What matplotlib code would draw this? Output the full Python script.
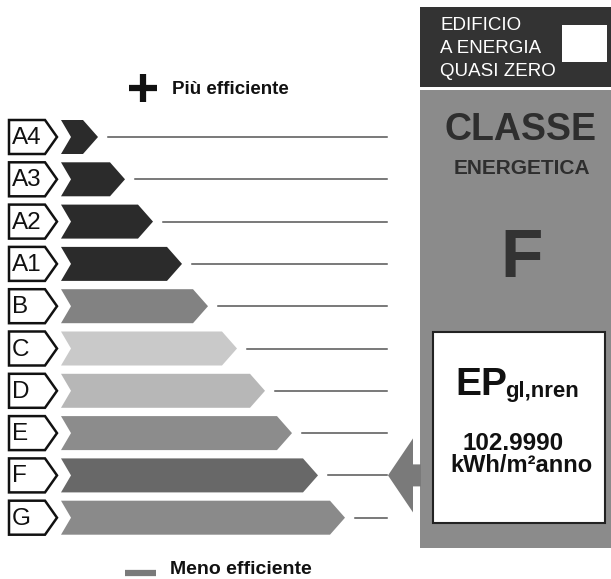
import matplotlib
matplotlib.use("Agg")
import matplotlib.pyplot as plt
from matplotlib.patches import Polygon, Rectangle

plt.rcParams['font.family'] = ['Liberation Sans', 'DejaVu Sans']

# classi energetiche, dalla migliore alla peggiore
classes = ['A4', 'A3', 'A2', 'A1', 'B', 'C', 'D', 'E', 'F', 'G']
bar_ends = [98, 125, 153, 182, 208, 237, 265, 292, 318, 345]
bar_grays = ['#2b2b2b', '#2b2b2b', '#2b2b2b', '#2b2b2b', '#828282',
             '#c9c9c9', '#b7b7b7', '#8c8c8c', '#686868', '#8a8a8a']
rating = 'F'
ep_value = 102.9990
header_lines = ['EDIFICIO', 'A ENERGIA', 'QUASI ZERO']

W, H = 611, 579
fig = plt.figure(figsize=(W / 100, H / 100), dpi=100)
ax = fig.add_axes([0, 0, 1, 1])
ax.set_xlim(0, W)
ax.set_ylim(H, 0)
ax.axis('off')

row0, pitch, half = 137, 42.3, 17
line_end = 387

for i, (cl, end, col) in enumerate(zip(classes, bar_ends, bar_grays)):
    cy = row0 + i * pitch
    top, bot = cy - half, cy + half
    # etichetta con bordo
    lab = Polygon([(9, top), (45, top), (57, cy), (45, bot), (9, bot)],
                  closed=True, facecolor='white', edgecolor='#111111', lw=1.8)
    ax.add_patch(lab)
    ax.text(12, cy + 1, cl, fontsize=17.5, color='#111111', va='center', ha='left')
    # freccia della classe
    bar = Polygon([(61, top), (end - 15, top), (end, cy), (end - 15, bot),
                   (61, bot), (71, cy)], closed=True, facecolor=col, edgecolor='none')
    ax.add_patch(bar)
    ax.plot([end + 10, line_end], [cy, cy], color='#555555', lw=1.1)

# testo in alto e in basso
ax.plot([129, 157], [88, 88], color='#111111', lw=4.5, solid_capstyle='butt')
ax.plot([143, 143], [74, 102], color='#111111', lw=4.5, solid_capstyle='butt')
ax.text(172, 89, 'Più efficiente', fontsize=13.5, fontweight='bold', color='#111111',
        va='center', ha='left')
ax.plot([125, 156], [573, 573], color='#7a7a7a', lw=4.5, solid_capstyle='butt')
ax.text(170, 570, 'Meno efficiente', fontsize=14, fontweight='bold', color='#111111',
        va='center', ha='left')

# pannello destro
ax.add_patch(Rectangle((420, 7), 191, 80, facecolor='#333333', edgecolor='none'))
for k, t in enumerate(header_lines):
    ax.text(440, 26 + k * 22.5, t, fontsize=13.5, color='white', va='center', ha='left')
ax.add_patch(Rectangle((562, 25), 45, 37, facecolor='white', edgecolor='none'))

ax.add_patch(Rectangle((420, 90), 191, 458, facecolor='#8b8b8b', edgecolor='none'))
ax.text(521, 130, 'CLASSE', fontsize=27, fontweight='bold', color='#2e2e2e',
        va='center', ha='center')
ax.text(522, 168, 'ENERGETICA', fontsize=15, fontweight='bold', color='#2e2e2e',
        va='center', ha='center')
ax.text(522, 259, rating, fontsize=50, fontweight='bold', color='#333333',
        va='center', ha='center')

ax.add_patch(Rectangle((433, 332), 172, 191, facecolor='white',
                       edgecolor='#222222', lw=1.5))
ax.text(455, 395, 'EP', fontsize=28, fontweight='bold', color='#111111',
        va='baseline', ha='left')
ax.text(505, 397, 'gl,nren', fontsize=16, fontweight='bold', color='#111111',
        va='baseline', ha='left')
ax.text(513, 444, f'{ep_value:.4f}', fontsize=17.5, fontweight='bold', color='#111111',
        va='center', ha='center')
ax.text(521, 466, 'kWh/m²anno', fontsize=17, fontweight='bold', color='#111111',
        va='center', ha='center')

# freccia indicatore sulla classe
ri = classes.index(rating)
cy = row0 + ri * pitch
ax.add_patch(Polygon([(388, cy), (413, cy - 37), (413, cy - 11), (421, cy - 11),
                      (421, cy + 11), (413, cy + 11), (413, cy + 37)],
                     closed=True, facecolor='#7a7a7a', edgecolor='none'))

fig.savefig('out.png', dpi=100)
